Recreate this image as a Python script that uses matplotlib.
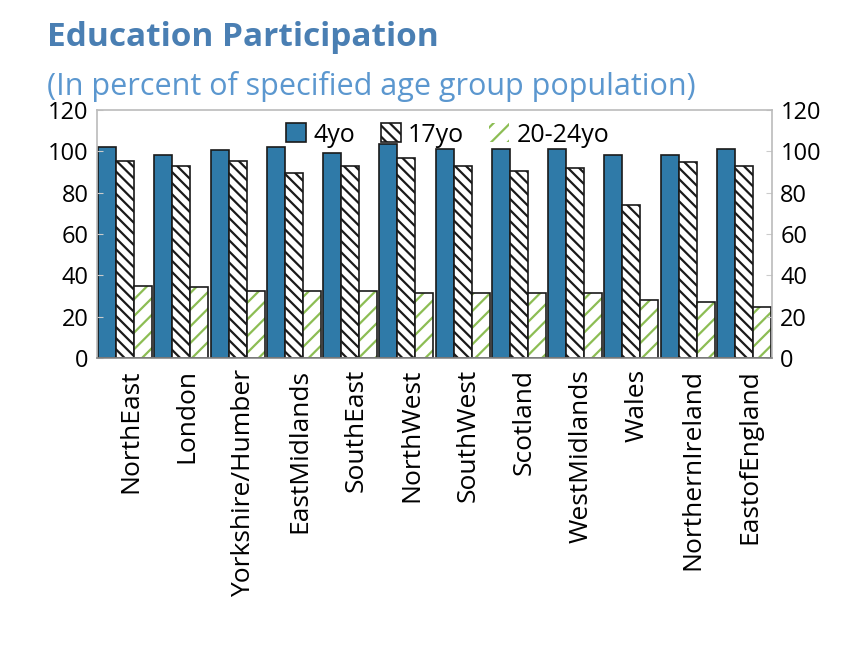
import numpy as np
import matplotlib.pyplot as plt

plt.rcParams['font.family'] = ['Open Sans', 'DejaVu Sans']
plt.rcParams['hatch.linewidth'] = 1.6

regions = ['NorthEast', 'London', 'Yorkshire/Humber', 'EastMidlands', 'SouthEast',
           'NorthWest', 'SouthWest', 'Scotland', 'WestMidlands', 'Wales',
           'NorthernIreland', 'EastofEngland']
age4 = [102.2, 98.2, 100.6, 102.2, 99.3, 103.4, 101.0, 101.0, 101.0, 98.2, 98.2, 101.0]
age17 = [95.5, 93.0, 95.5, 89.7, 93.0, 96.9, 93.0, 90.6, 91.8, 74.2, 94.7, 93.0]
age20_24 = [35.0, 34.2, 32.6, 32.6, 32.6, 31.3, 31.3, 31.3, 31.3, 28.0, 27.0, 24.5]
series_labels = ['4yo', '17yo', '20-24yo']
yticks = [0, 20, 40, 60, 80, 100, 120]

fig = plt.figure(figsize=(8.5, 6.65), dpi=100)
ax = fig.add_axes([97 / 850, 1 - 358 / 665, 675 / 850, 248 / 665])

x = np.arange(len(regions))
w = 0.32
ax.bar(x - w, age4, w, color='#2f7aa8', edgecolor='#1a1a1a', linewidth=1.2,
       label=series_labels[0])
ax.bar(x, age17, w, color='white', edgecolor='#1a1a1a', hatch='\\\\\\',
       linewidth=1.2, label=series_labels[1])
ax.bar(x + w, age20_24, w, color='white', edgecolor='#8cbd54', hatch='//',
       linewidth=0, label=series_labels[2])
# black outline on the green-hatched bars
ax.bar(x + w, age20_24, w, color='none', edgecolor='#1a1a1a', linewidth=1.2)

ax.set_xlim(-0.5, len(regions) - 0.5)
ax.set_ylim(0, 120)
ax.set_yticks(yticks)
ax.set_xticks(x + 0.1)
ax.set_xticklabels(regions, rotation=90, fontsize=19)
ax.tick_params(axis='x', length=0, pad=8)
ax.tick_params(axis='y', labelsize=17, direction='in', length=4, color='#cccccc',
               right=True, labelright=True, pad=6)
for s in ax.spines.values():
    s.set_color('#bbbbbb')
    s.set_linewidth(1.2)
ax.spines['bottom'].set_color('#888888')

ax.legend(loc='upper center', ncol=3, frameon=False, fontsize=18,
          bbox_to_anchor=(0.52, 1.04), handlelength=0.8, handleheight=0.8,
          handletextpad=0.3, columnspacing=1.0)

fig.text(47 / 850, 1 - 38 / 665, 'Education Participation', fontsize=24,
         fontweight='bold', color='#4a7fb3', va='center')
fig.text(47 / 850, 1 - 87 / 665, '(In percent of specified age group population)',
         fontsize=22, color='#5b97cf', va='center')

fig.savefig('out.png', dpi=100)
